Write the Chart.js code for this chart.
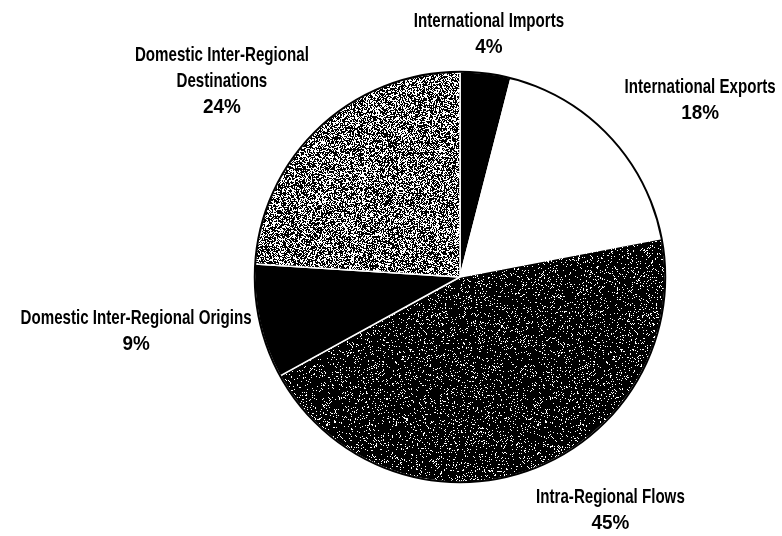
<!DOCTYPE html>
<html>
<head>
<meta charset="utf-8">
<script src="https://cdn.jsdelivr.net/npm/chart.js@4"></script>
<style>
  html, body { margin: 0; padding: 0; background: #fff; }
  #wrap { width: 782px; height: 536px; }
</style>
</head>
<body>
<div id="wrap"><canvas id="flowChart" width="782" height="536"></canvas></div>
<script>
// data
const categories = [
    ['International Imports'],
    ['International Exports'],
    ['Intra-Regional Flows'],
    ['Domestic Inter-Regional Origins'],
    ['Domestic Inter-Regional', 'Destinations']
];
const shares = [4, 18, 45, 9, 24];

// where each label block sits, in units of the pie radius from its centre
const labelOffsets = [
    [0.141, -1.184],
    [1.170, -0.862],
    [0.733, 1.136],
    [-1.578, 0.265],
    [-1.160, -0.953]
];

/* -------------------- TEXTURES -------------------- */

// small seeded generator so the speckle looks the same every run
function makeRand(seed) {
    let s = seed >>> 0;
    return () => {
        s = (s * 1664525 + 1013904223) >>> 0;
        return s / 4294967296;
    };
}

function speckle(size, blackShare, seed, ctxMain) {
    const c = document.createElement('canvas');
    c.width = size;
    c.height = size;
    const g = c.getContext('2d');
    const img = g.createImageData(size, size);
    const rand = makeRand(seed);
    for (let i = 0; i < size * size; i++) {
        const v = rand() < blackShare ? 0 : 255;
        img.data[i * 4] = v;
        img.data[i * 4 + 1] = v;
        img.data[i * 4 + 2] = v;
        img.data[i * 4 + 3] = 255;
    }
    g.putImageData(img, 0, 0);
    return ctxMain.createPattern(c, 'repeat');
}

const canvas = document.getElementById('flowChart');
const ctx = canvas.getContext('2d');

const sliceFills = [
    '#000000',
    '#ffffff',
    speckle(211, 0.9, 7, ctx),
    '#000000',
    speckle(197, 0.56, 13, ctx)
];

/* -------------------- PLUGINS -------------------- */

const rimAndLabels = {
    id: 'rimAndLabels',
    afterDatasetsDraw(chart) {
        const c = chart.ctx;
        const arcs = chart.getDatasetMeta(0).data;
        const first = arcs[0];
        const cx = first.x, cy = first.y, r = first.outerRadius;

        // black outline round the pie
        c.save();
        c.beginPath();
        c.arc(cx, cy, r, 0, Math.PI * 2);
        c.lineWidth = 2;
        c.strokeStyle = '#000';
        c.stroke();
        c.restore();

        // labels: names squeezed, percentages a bit wider
        const lineH = 26;
        c.save();
        c.fillStyle = '#000';
        c.font = "bold 21px 'Liberation Sans', Arial, sans-serif";
        c.textAlign = 'center';
        c.textBaseline = 'middle';
        categories.forEach((lines, i) => {
            const rows = lines.concat([shares[i] + '%']);
            const bx = cx + labelOffsets[i][0] * r;
            const by = cy + labelOffsets[i][1] * r;
            const top = by - (rows.length - 1) * lineH / 2;
            rows.forEach((txt, k) => {
                const isPct = k === rows.length - 1;
                c.save();
                c.translate(bx, top + k * lineH);
                c.scale(isPct ? 0.9 : 0.72, 1);
                c.fillText(txt, 0, 0);
                c.restore();
            });
        });
        c.restore();
    }
};

/* -------------------- CHART -------------------- */

new Chart(canvas, {
    type: 'pie',
    data: {
        labels: categories.map(l => l.join(' ')),
        datasets: [{
            data: shares,
            backgroundColor: sliceFills,
            borderColor: '#ffffff',
            borderWidth: 1.5
        }]
    },
    options: {
        responsive: false,
        animation: false,
        layout: { padding: { top: 70, bottom: 52, left: 254, right: 116 } },
        plugins: {
            legend: { display: false },
            tooltip: { enabled: false }
        }
    },
    plugins: [rimAndLabels]
});
</script>
</body>
</html>
